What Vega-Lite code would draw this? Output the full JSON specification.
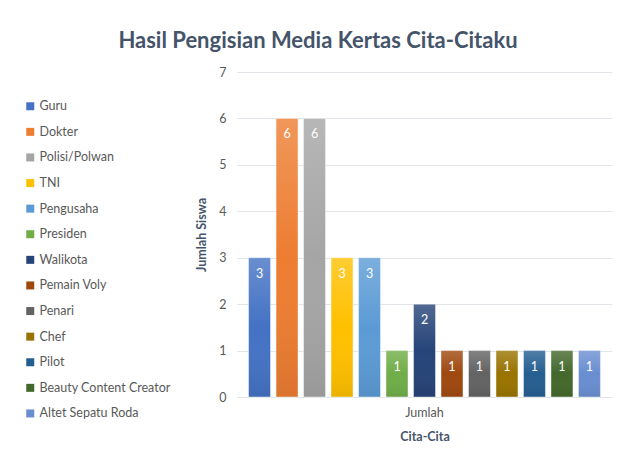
{
  "$schema": "https://vega.github.io/schema/vega-lite/v6.json",
  "width": 375,
  "height": 325,
  "padding": {"left": 24, "top": 30, "right": 9, "bottom": 10},
  "background": "white",
  "title": {
    "text": "Hasil Pengisian Media Kertas Cita-Citaku",
    "font": "Lato",
    "fontSize": 22,
    "fontWeight": "bold",
    "color": "#44546A",
    "anchor": "middle",
    "frame": "bounds",
    "offset": 13
  },
  "config": {
    "view": {"stroke": null},
    "axis": {
      "labelFont": "Lato",
      "labelFontSize": 12.5,
      "labelColor": "#595959",
      "titleFont": "Lato",
      "titleFontSize": 12.5,
      "titleFontWeight": "bold",
      "titleColor": "#44546A",
      "gridColor": "#E1E4E8",
      "gridWidth": 1,
      "domain": false,
      "ticks": false
    },
    "legend": {
      "labelFont": "Lato",
      "labelFontSize": 12.5,
      "labelColor": "#595959",
      "symbolType": "square",
      "symbolSize": 64,
      "symbolStrokeWidth": 0,
      "rowPadding": 12.6,
      "labelOffset": 3,
      "padding": 0
    }
  },
  "data": {
    "values": [
      {"kelompok": "Jumlah", "cita": "Guru", "jumlah": 3},
      {"kelompok": "Jumlah", "cita": "Dokter", "jumlah": 6},
      {"kelompok": "Jumlah", "cita": "Polisi/Polwan", "jumlah": 6},
      {"kelompok": "Jumlah", "cita": "TNI", "jumlah": 3},
      {"kelompok": "Jumlah", "cita": "Pengusaha", "jumlah": 3},
      {"kelompok": "Jumlah", "cita": "Presiden", "jumlah": 1},
      {"kelompok": "Jumlah", "cita": "Walikota", "jumlah": 2},
      {"kelompok": "Jumlah", "cita": "Pemain Voly", "jumlah": 1},
      {"kelompok": "Jumlah", "cita": "Penari", "jumlah": 1},
      {"kelompok": "Jumlah", "cita": "Chef", "jumlah": 1},
      {"kelompok": "Jumlah", "cita": "Pilot", "jumlah": 1},
      {"kelompok": "Jumlah", "cita": "Beauty Content Creator", "jumlah": 1},
      {"kelompok": "Jumlah", "cita": "Altet Sepatu Roda", "jumlah": 1}
    ]
  },
  "encoding": {
    "x": {
      "field": "kelompok",
      "type": "nominal",
      "scale": {"paddingInner": 0, "paddingOuter": 0},
      "axis": {"title": "Cita-Cita", "labelAngle": 0, "labelPadding": 9, "titlePadding": 12, "grid": false}
    },
    "xOffset": {
      "field": "cita",
      "type": "nominal",
      "sort": ["Guru", "Dokter", "Polisi/Polwan", "TNI", "Pengusaha", "Presiden", "Walikota", "Pemain Voly", "Penari", "Chef", "Pilot", "Beauty Content Creator", "Altet Sepatu Roda"],
      "scale": {"paddingInner": 0.2, "paddingOuter": 0.42}
    },
    "y": {
      "field": "jumlah",
      "type": "quantitative",
      "scale": {"domain": [0, 7], "nice": false},
      "axis": {"title": "Jumlah Siswa", "values": [0, 1, 2, 3, 4, 5, 6, 7], "labelPadding": 11, "titlePadding": 10}
    }
  },
  "layer": [
    {
      "mark": {"type": "bar"},
      "encoding": {
        "color": {
          "field": "cita",
          "type": "nominal",
          "sort": ["Guru", "Dokter", "Polisi/Polwan", "TNI", "Pengusaha", "Presiden", "Walikota", "Pemain Voly", "Penari", "Chef", "Pilot", "Beauty Content Creator", "Altet Sepatu Roda"],
          "scale": {
            "domain": ["Guru", "Dokter", "Polisi/Polwan", "TNI", "Pengusaha", "Presiden", "Walikota", "Pemain Voly", "Penari", "Chef", "Pilot", "Beauty Content Creator", "Altet Sepatu Roda"],
            "range": ["#4472C4", "#ED7D31", "#A5A5A5", "#FFC000", "#5B9BD5", "#70AD47", "#264478", "#9E480E", "#636363", "#997300", "#255E91", "#43682B", "#698ED0"]
          },
          "legend": {"title": null, "orient": "none", "legendX": -213, "legendY": 28}
        }
      }
    },
    {
      "mark": {
        "type": "bar",
        "fill": {
          "gradient": "linear",
          "x1": 0, "y1": 0, "x2": 0, "y2": 1,
          "stops": [
            {"offset": 0, "color": "rgba(255,255,255,0.2)"},
            {"offset": 0.5, "color": "rgba(255,255,255,0)"},
            {"offset": 1, "color": "rgba(0,0,0,0.08)"}
          ]
        },
        "stroke": "white",
        "strokeOpacity": 0.45,
        "strokeWidth": 1
      },
      "encoding": {}
    },
    {
      "mark": {"type": "text", "color": "white", "dy": 16, "baseline": "middle", "font": "Lato", "fontSize": 12.5},
      "encoding": {"text": {"field": "jumlah", "type": "quantitative"}}
    }
  ]
}
